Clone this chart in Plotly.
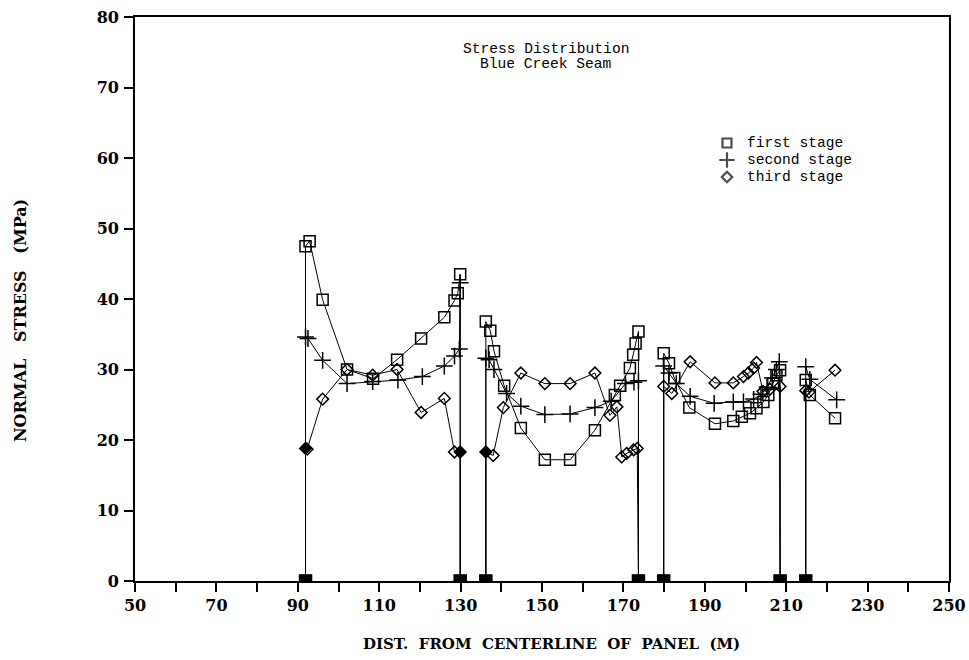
import plotly.graph_objects as go

# ---------------- data ----------------
# first stage, per pillar segment
first_x = [
    [91.9, 91.9, 92.9, 96.1, 102.1, 108.5, 114.4, 120.3, 126.0, 128.5, 129.3, 129.9, 129.9],
    [136.2, 136.2, 137.3, 138.2, 140.7, 144.8, 150.7, 156.9, 163.0, 167.9, 169.2, 171.6, 172.4, 173.0, 173.7, 173.7],
    [179.9, 179.9, 181.2, 182.5, 186.2, 192.5, 197.0, 199.1, 201.1, 202.7, 204.4, 205.6, 206.8, 207.6, 208.5, 208.5],
    [214.8, 214.8, 215.8, 222.0],
]
first_y = [
    [0, 47.5, 48.2, 39.9, 30.0, 28.7, 31.4, 34.4, 37.4, 39.8, 40.8, 43.5, 0],
    [0, 36.8, 35.5, 32.6, 27.7, 21.7, 17.2, 17.2, 21.4, 26.4, 27.7, 30.2, 32.1, 33.7, 35.4, 0],
    [0, 32.3, 30.9, 28.8, 24.6, 22.3, 22.7, 23.3, 23.8, 24.5, 25.4, 26.4, 28.0, 29.2, 29.9, 0],
    [0, 28.5, 26.4, 23.1],
]

second_x = [
    [91.9, 91.9, 92.5, 96.1, 102.1, 108.4, 114.6, 120.6, 126.0, 128.5, 129.7, 129.9, 129.9],
    [136.2, 136.2, 137.0, 138.2, 141.3, 144.8, 150.7, 156.9, 163.0, 167.0, 170.5, 172.6, 173.7, 173.7],
    [179.9, 179.9, 181.2, 183.0, 186.4, 192.3, 197.0, 199.5, 202.0, 203.8, 205.3, 206.6, 207.6, 208.3, 208.5],
    [214.8, 214.8, 215.8, 222.4],
]
second_y = [
    [0, 34.6, 34.4, 31.3, 28.0, 28.3, 28.5, 29.0, 30.5, 31.9, 32.9, 42.3, 0],
    [0, 31.6, 31.4, 30.0, 26.6, 24.8, 23.6, 23.7, 24.6, 25.5, 28.0, 28.2, 28.4, 0],
    [0, 30.5, 29.5, 28.0, 26.2, 25.2, 25.4, 25.4, 25.8, 26.5, 27.5, 28.8, 30.0, 31.1, 0],
    [0, 30.4, 28.6, 25.7],
]

third_x = [
    [91.9, 91.9, 92.3, 96.1, 102.1, 108.4, 114.4, 120.3, 126.0, 128.5, 129.9, 129.9],
    [136.2, 136.2, 138.0, 140.5, 144.8, 150.7, 156.9, 163.0, 166.7, 168.4, 169.6, 170.8, 172.5, 173.4, 173.7],
    [179.9, 179.9, 181.9, 186.4, 192.5, 197.0, 199.5, 200.7, 202.0, 202.7, 204.3, 206.0, 208.5, 208.5],
    [214.8, 214.8, 215.6, 222.0],
]
third_y = [
    [0, 18.8, 18.7, 25.8, 30.0, 29.2, 30.0, 23.9, 25.9, 18.3, 18.3, 0],
    [0, 18.3, 17.8, 24.6, 29.5, 28.0, 28.0, 29.5, 23.5, 24.7, 17.6, 18.1, 18.6, 18.8, 0],
    [0, 27.6, 26.6, 31.1, 28.1, 28.1, 29.0, 29.5, 30.2, 31.0, 26.9, 27.2, 27.6, 0],
    [0, 27.0, 26.8, 29.9],
]

series_names = ["first stage", "second stage", "third stage"]
x_tick_vals = list(range(50, 251, 10))
x_tick_text = [str(v) if (v - 50) % 20 == 0 else "" for v in x_tick_vals]
y_tick_vals = list(range(0, 81, 10))

# ---------------- layout constants (pixels in a 969x660 page) ----------------
PL, PR, PT, PB = 135, 949, 17, 581
PW, PH = PR - PL, PB - PT


def px_x(p):
    return (p - PL) / PW


def px_y(p):
    return (PB - p) / PH


def join(segs):
    out = []
    for i, s in enumerate(segs):
        if i:
            out.append(None)
        out.extend(s)
    return out


def symbols(xsegs, ysegs, base, edge_fill=None):
    out = []
    for i, (xs, ys) in enumerate(zip(xsegs, ysegs)):
        if i:
            out.append(base)
        for j, (xv, yv) in enumerate(zip(xs, ys)):
            if yv == 0:
                out.append("square")
            elif edge_fill and yv < 20 and ((j > 0 and xs[j - 1] == xv) or (j + 1 < len(xs) and xs[j + 1] == xv)):
                out.append(edge_fill)
            else:
                out.append(base)
    return out


fig = go.Figure()
styles = [
    (first_x, first_y, "square-open", 11, None),
    (second_x, second_y, "cross-thin-open", 12, None),
    (third_x, third_y, "diamond-open", 9, "diamond"),
]
for (xs, ys, sym, size, fill), name in zip(styles, series_names):
    fig.add_trace(go.Scatter(
        x=join(xs), y=join(ys), mode="lines+markers", name=name,
        showlegend=False, connectgaps=False,
        line=dict(color="black", width=1),
        marker=dict(symbol=symbols(xs, ys, sym, fill), size=size, color="black",
                    line=dict(color="black", width=1.5)),
    ))

# legend key (drawn on an overlay axis spanning the plot area in 0..1 units)
legend_rows_px = [143, 160, 177]
legend_syms = [("square-open", 9), ("cross-thin-open", 11), ("diamond-open", 8)]
fig.add_trace(go.Scatter(
    x=[px_x(727)] * 3, y=[px_y(r) for r in legend_rows_px], mode="markers",
    xaxis="x2", yaxis="y2", showlegend=False, hoverinfo="skip",
    marker=dict(symbol=[s for s, _ in legend_syms], size=[z for _, z in legend_syms],
                color="black", line=dict(color="black", width=2.2)),
))

tick_font = dict(family="DejaVu Serif", size=16, color="black", weight="bold")
mono = dict(family="Liberation Mono, Courier New, monospace", size=14.6, color="black")

annotations = [
    dict(text="Stress Distribution", xref="paper", yref="paper", x=px_x(546), y=px_y(49),
         showarrow=False, font=mono, xanchor="center", yanchor="middle"),
    dict(text="Blue Creek Seam", xref="paper", yref="paper", x=px_x(546), y=px_y(64),
         showarrow=False, font=mono, xanchor="center", yanchor="middle"),
    dict(text="DIST.\u00a0 FROM\u00a0 CENTERLINE\u00a0 OF\u00a0 PANEL\u00a0 (M)", xref="paper", yref="paper",
         x=px_x(551), y=px_y(644), showarrow=False,
         font=dict(family="DejaVu Serif", size=15, color="black", weight="bold"),
         xanchor="center", yanchor="middle"),
    dict(text="NORMAL\u00a0\u00a0 STRESS\u00a0\u00a0 (MPa)", xref="paper", yref="paper",
         x=px_x(20), y=px_y(321), showarrow=False,
         font=dict(family="DejaVu Serif", size=16, color="black", weight="bold"),
         textangle=-90, xanchor="center", yanchor="middle"),
]
for name, r in zip(series_names, legend_rows_px):
    annotations.append(dict(text=name, xref="paper", yref="paper", x=px_x(745), y=px_y(r),
                            showarrow=False, font=mono, xanchor="left", yanchor="middle"))

fig.update_layout(
    width=969, height=660,
    margin=dict(l=PL, r=969 - PR, t=PT, b=660 - PB, pad=0, autoexpand=False),
    paper_bgcolor="white", plot_bgcolor="white",
    showlegend=False,
    xaxis=dict(range=[50, 250], tickmode="array", tickvals=x_tick_vals, ticktext=x_tick_text,
               ticks="outside", ticklen=9, tickwidth=1.5, tickcolor="black",
               showline=True, linecolor="black", linewidth=1.8, mirror=True, automargin=False,
               showgrid=False, zeroline=False, tickfont=tick_font, ticklabelstandoff=0),
    yaxis=dict(range=[0, 80], tickmode="array", tickvals=y_tick_vals,
               ticks="outside", ticklen=9, tickwidth=1.5, tickcolor="black",
               showline=True, linecolor="black", linewidth=1.8, mirror=True, automargin=False,
               showgrid=False, zeroline=False, tickfont=tick_font, ticklabelstandoff=2),
    xaxis2=dict(range=[0, 1], overlaying="x", visible=False, fixedrange=True),
    yaxis2=dict(range=[0, 1], overlaying="y", visible=False, fixedrange=True),
    annotations=annotations,
)

fig.write_html("out.html")
